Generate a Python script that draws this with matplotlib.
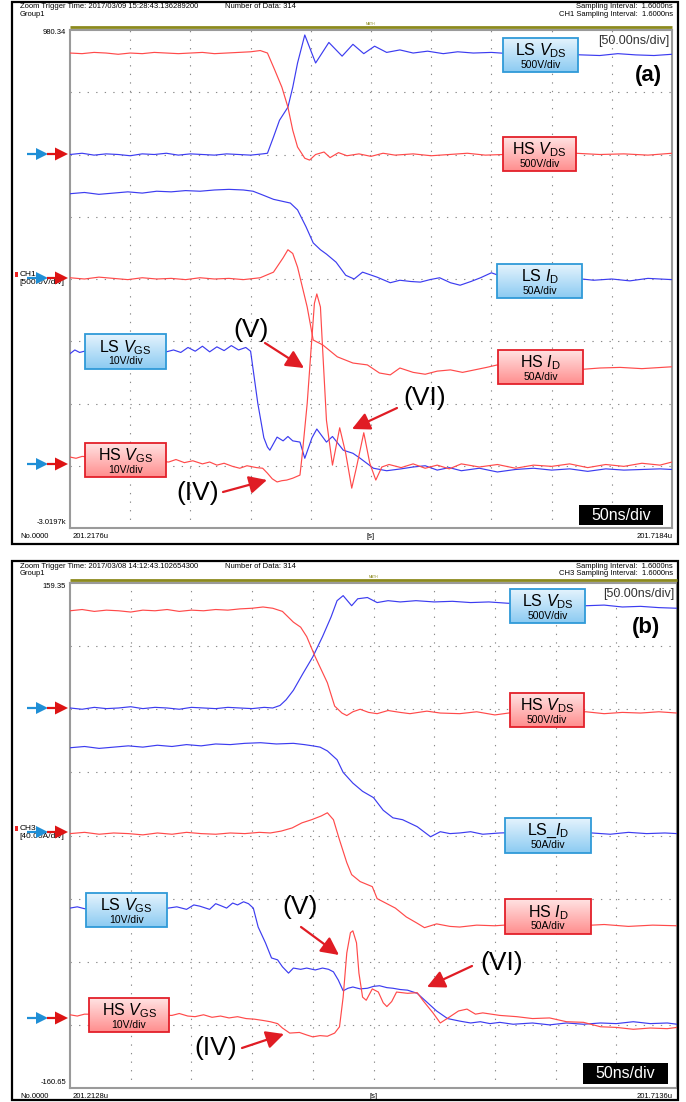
import numpy as np
import matplotlib
matplotlib.use('Agg')
import matplotlib.pyplot as plt
from matplotlib.patches import Rectangle, Polygon

plt.rcParams['font.family'] = ['Liberation Sans', 'DejaVu Sans']
plt.rcParams['mathtext.fontset'] = 'custom'
plt.rcParams['mathtext.rm'] = 'Liberation Sans'
plt.rcParams['mathtext.it'] = 'Liberation Sans:italic'
plt.rcParams['mathtext.bf'] = 'Liberation Sans:bold'

# ---------------- data (time in ns, value in divisions) ----------------
# Panel (a)
a_ls_vds_t = [0, 10, 20, 30, 40, 50, 60, 70, 80, 90, 100, 110, 120, 130, 140, 150, 160,
              164, 169, 174, 181, 185, 189, 195, 204, 215, 226, 235, 244, 253, 263, 274,
              285, 297, 310, 322, 335, 350, 365, 380, 395, 410, 425, 440, 455, 470, 485, 500]
a_ls_vds_v = [6.00, 6.02, 5.99, 6.01, 6.00, 5.98, 6.01, 6.00, 6.02, 5.99, 6.01, 6.00, 5.99, 6.01, 6.00, 5.99, 6.01,
              6.02, 6.28, 6.55, 6.76, 7.08, 7.47, 7.92, 7.47, 7.80, 7.58, 7.77, 7.62, 7.74, 7.64, 7.68,
              7.63, 7.66, 7.62, 7.65, 7.63, 7.64, 7.62, 7.63, 7.60, 7.61, 7.60, 7.59, 7.62, 7.60, 7.59, 7.61]

a_hs_vds_t = [0, 10, 20, 30, 40, 50, 60, 70, 80, 90, 100, 110, 120, 130, 140, 150,
              158, 164, 170, 176, 181, 185, 189, 195, 199, 204, 211, 216, 223, 230, 240, 250, 260, 270,
              285, 300, 315, 330, 345, 360, 380, 400, 420, 440, 460, 480, 500]
a_hs_vds_v = [7.63, 7.62, 7.64, 7.63, 7.61, 7.63, 7.62, 7.64, 7.63, 7.62, 7.63, 7.64, 7.62, 7.63, 7.64, 7.65,
              7.67, 7.63, 7.36, 7.08, 6.76, 6.39, 6.12, 5.94, 5.91, 6.00, 6.04, 5.95, 6.03, 5.98, 6.01, 5.97, 6.02, 5.99,
              6.01, 5.98, 6.00, 6.02, 5.99, 6.00, 6.01, 5.99, 6.02, 6.00, 6.01, 5.99, 6.02]

a_ls_id_t = [0, 12, 24, 36, 48, 60, 72, 84, 96, 108, 120, 132, 144,
             152, 160, 169, 183, 189, 196, 202, 208, 213, 221, 229, 236, 243, 255, 266,
             274, 283, 291, 299, 307, 316, 324, 333, 341, 350, 360, 375, 390, 405, 420, 435, 450, 465, 480, 500]
a_ls_id_v = [5.37, 5.39, 5.36, 5.38, 5.40, 5.38, 5.41, 5.40, 5.42, 5.41, 5.43, 5.44, 5.43,
             5.41, 5.35, 5.28, 5.22, 5.11, 4.84, 4.58, 4.47, 4.40, 4.27, 4.06, 4.00, 4.11, 4.03, 3.94,
             3.98, 3.96, 3.95, 3.99, 4.02, 3.94, 3.90, 3.96, 4.02, 4.10, 4.03, 3.98, 4.00, 3.97, 4.01, 3.98, 4.00, 3.97, 4.01, 3.99]

a_hs_id_t = [0, 12, 24, 36, 48, 60, 72, 84, 96, 108, 120, 132, 144,
             158, 169, 177, 181, 185, 189, 197, 202, 210, 222, 235, 247, 257, 266,
             274, 285, 295, 305, 316, 326, 336, 346, 355, 370, 390, 410, 426, 440, 457, 475, 500]
a_hs_id_v = [4.02, 4.00, 4.03, 4.01, 3.99, 4.02, 4.00, 4.01, 3.99, 4.02, 4.00, 4.01, 3.99,
             4.02, 4.11, 4.34, 4.47, 4.41, 4.19, 3.55, 3.02, 2.94, 2.75, 2.65, 2.62, 2.49, 2.46,
             2.57, 2.50, 2.47, 2.52, 2.54, 2.50, 2.54, 2.58, 2.62, 2.57, 2.55, 2.58, 2.55, 2.57, 2.58, 2.56, 2.59]

a_ls_vgs_t = [0, 4, 8, 12,
              80, 86, 92, 98, 104, 110, 116, 122, 128, 134, 140, 146, 150,
              156, 161, 164, 166, 172, 177, 181, 185, 191, 195, 201, 205, 213, 218, 227, 235, 241, 252, 263,
              275, 285, 295, 305, 315, 325, 340, 355, 370, 385, 400, 415, 430, 445, 460, 475, 490, 500]
a_ls_vgs_v = [2.80, 2.86, 2.82, 2.84,
              2.83, 2.86, 2.82, 2.90, 2.84, 2.92, 2.83, 2.91, 2.85, 2.93, 2.86, 2.90, 2.84,
              2.00, 1.45, 1.30, 1.25, 1.46, 1.40, 1.47, 1.40, 1.38, 1.12, 1.45, 1.59, 1.38, 1.47, 1.25, 1.20, 1.12, 0.96, 0.92,
              0.95, 0.98, 1.00, 0.93, 0.97, 0.92, 0.96, 0.90, 0.94, 0.96, 0.93, 0.95, 0.91, 0.95, 0.93, 0.94, 0.95, 0.94]

a_hs_vgs_t = [0, 5, 10,
              82, 88, 95, 102, 110, 116, 122, 128, 135, 141, 147, 155, 160,
              164, 168, 172, 176, 180, 185, 191, 193, 197, 200, 203, 205, 208, 210, 213, 218, 224, 229, 234, 238,
              244, 249, 254, 259, 265,
              275, 285, 295, 305, 315, 325, 340, 355, 370, 385, 400, 415, 430, 445, 460, 475, 490, 500]
a_hs_vgs_v = [1.14, 1.12, 1.15,
              1.06, 1.10, 1.05, 1.08, 1.03, 1.06, 1.01, 1.04, 0.99, 0.96, 1.00, 0.97, 0.96,
              0.88, 0.79, 0.74, 0.76, 0.77, 0.80, 0.85, 1.20, 2.00, 2.81, 3.61, 3.76, 3.55, 2.81, 1.73, 1.01, 1.61, 1.20, 0.64, 0.98,
              1.53, 1.04, 0.77, 0.98, 1.02,
              0.97, 1.03, 0.96, 1.01, 0.95, 1.03, 0.98, 1.02, 0.96, 1.01, 0.99, 1.03, 0.97, 1.02, 0.99, 1.04, 1.01, 1.06]

# Panel (b)
b_ls_vds_t = [0, 10, 20, 30, 40, 50, 60, 70, 80, 90, 100, 110, 120, 130, 140, 150, 160,
              167, 173, 178, 184, 192, 200, 208, 215, 220, 225, 232, 237, 245, 253, 262, 272, 285, 300, 315, 330,
              345, 360, 380, 400, 425, 440, 455, 470, 485, 500]
b_ls_vds_v = [6.02, 6.00, 6.03, 6.01, 6.02, 6.04, 6.01, 6.03, 6.02, 6.00, 6.03, 6.02, 6.01, 6.03, 6.02, 6.01, 6.03,
              6.02, 6.06, 6.15, 6.30, 6.57, 6.83, 7.15, 7.46, 7.72, 7.80, 7.64, 7.75, 7.77, 7.69, 7.72, 7.70, 7.72, 7.70, 7.71, 7.69,
              7.70, 7.68, 7.66, 7.67, 7.64, 7.65, 7.62, 7.63, 7.61, 7.60]

b_hs_vds_t = [0, 10, 20, 30, 40, 50, 60, 70, 80, 90, 100, 110, 120, 130, 140, 150,
              159, 167, 175, 184, 190, 195, 202, 212, 218, 224, 228, 233, 239, 246, 253, 262, 272, 280, 294, 305,
              321, 335, 350, 365, 380, 397, 410, 425, 440, 455, 470, 485, 500]
b_hs_vds_v = [7.56, 7.58, 7.55, 7.57, 7.56, 7.54, 7.57, 7.56, 7.58, 7.55, 7.57, 7.56, 7.58, 7.57, 7.59, 7.60,
              7.62, 7.60, 7.55, 7.38, 7.30, 7.15, 6.83, 6.42, 6.05, 5.94, 5.90, 5.96, 6.00, 5.95, 5.93, 5.98, 5.95, 5.93, 5.97, 5.94,
              5.93, 5.96, 5.91, 5.95, 5.96, 5.94, 5.95, 5.96, 5.93, 5.95, 5.94, 5.96, 5.94]

b_ls_id_t = [0, 12, 24, 36, 48, 60, 72, 84, 96, 108, 120, 132, 144,
             157, 170, 184, 193, 200, 206, 212, 220, 225, 233, 241, 250, 258, 266, 274, 286, 297, 305, 313, 321,
             330, 340, 354, 370, 390, 410, 430, 445, 460, 475, 490, 500]
b_ls_id_v = [5.39, 5.41, 5.38, 5.40, 5.42, 5.40, 5.43, 5.41, 5.44, 5.42, 5.45, 5.44, 5.46,
             5.47, 5.45, 5.46, 5.44, 5.42, 5.40, 5.34, 5.20, 5.00, 4.83, 4.70, 4.60, 4.40, 4.28, 4.25, 4.14, 3.98, 4.06, 4.03, 4.04,
             4.06, 4.02, 4.04, 4.05, 4.03, 4.05, 4.04, 4.02, 4.05, 4.03, 4.04, 4.03]

b_hs_id_t = [0, 12, 24, 36, 48, 60, 72, 84, 96, 108, 120, 132, 144, 156,
             165, 174, 183, 191, 199, 207, 212, 217, 222, 228, 232, 239, 249, 253, 260, 268, 277, 286, 292, 302,
             313, 321, 335, 350, 365, 380, 400, 420, 440, 460, 480, 500]
b_hs_id_v = [4.03, 4.05, 4.02, 4.04, 4.03, 4.01, 4.04, 4.02, 4.05, 4.03, 4.02, 4.04, 4.03, 4.05,
             4.04, 4.07, 4.12, 4.20, 4.25, 4.31, 4.36, 4.25, 3.93, 3.57, 3.38, 3.27, 3.19, 3.00, 2.93, 2.85, 2.71, 2.61, 2.54, 2.60,
             2.56, 2.55, 2.58, 2.57, 2.59, 2.56, 2.58, 2.57, 2.59, 2.56, 2.58, 2.57]

b_ls_vgs_t = [0, 6, 12,
              81, 88, 96, 102, 107, 115, 120, 124, 129, 134,
              138, 143, 147, 151, 155, 161, 166, 171, 175, 180,
              184, 190, 195, 202, 208, 213, 217, 221, 225, 229,
              233, 239, 245, 250, 255, 261, 266, 272, 278, 286,
              294, 302, 311, 321, 330, 338, 346, 354, 365, 381,
              395, 409, 423, 437, 450, 464, 478, 492, 500]
b_ls_vgs_v = [2.85, 2.87, 2.84,
              2.85, 2.87, 2.83, 2.90, 2.88, 2.83, 2.92, 2.89, 2.85, 2.93,
              2.90, 2.95, 2.92, 2.85, 2.55, 2.30, 2.06, 2.03, 1.92, 1.82,
              1.90, 1.88, 1.90, 1.87, 1.90, 1.88, 1.84, 1.71, 1.54, 1.58,
              1.60, 1.57, 1.58, 1.61, 1.62, 1.59, 1.58, 1.56, 1.55, 1.50,
              1.36, 1.22, 1.10, 1.06, 1.03, 1.05, 1.02, 1.04, 1.01, 1.03,
              1.00, 1.03, 1.01, 1.03, 1.02, 1.05, 1.02, 1.03, 1.01]

b_hs_vgs_t = [0, 6, 12,
              84, 90, 97, 103, 110, 117, 124, 131, 138, 145,
              152, 159, 165, 171, 175, 181, 189, 195, 200, 206,
              212, 218, 222, 225, 228, 231, 233, 236, 238, 241,
              244, 249, 254, 258, 261, 265, 269, 278, 286, 291,
              299, 305, 313, 320, 327, 334, 340, 354, 368, 381,
              395, 409, 423, 437, 450, 464, 478, 492, 500]
b_hs_vgs_v = [1.16, 1.14, 1.17,
              1.15, 1.18, 1.14, 1.13, 1.16, 1.12, 1.14, 1.11, 1.13, 1.10,
              1.09, 1.07, 1.05, 1.02, 0.95, 0.87, 0.88, 0.84, 0.81, 0.83,
              0.82, 0.87, 0.97, 1.44, 2.14, 2.46, 2.49, 2.30, 1.82, 1.44,
              1.39, 1.57, 1.52, 1.35, 1.29, 1.37, 1.52, 1.50, 1.51, 1.38,
              1.19, 1.03, 1.13, 1.22, 1.25, 1.17, 1.19, 1.15, 1.13, 1.10,
              1.11, 1.05, 1.04, 0.97, 0.96, 0.93, 0.95, 0.94, 0.96]

# ---------------- figure ----------------
W, H = 686, 1102
fig = plt.figure(figsize=(W / 100, H / 100), dpi=100)
fig.patch.set_facecolor('white')

BLUE = '#3c3cf0'
RED = '#ff4a4a'
NARROW = ['Liberation Sans Narrow', 'Liberation Sans', 'DejaVu Sans']

ov = fig.add_axes([0, 0, 1, 1], zorder=10)
ov.axis('off')


def px_axes(x0, y0, x1, y1):
    return fig.add_axes([x0 / W, 1 - y1 / H, (x1 - x0) / W, (y1 - y0) / H])


def gradient_box(x0, y0, x1, y1, top, bottom, edge, l1, l2):
    top = np.array(matplotlib.colors.to_rgb(top))
    bottom = np.array(matplotlib.colors.to_rgb(bottom))
    f = np.linspace(0, 1, 40)[:, None]
    img = (top[None, :] * (1 - f) + bottom[None, :] * f)[:, None, :]
    ov.imshow(img, extent=(x0, x1, y1, y0), aspect='auto', zorder=5, interpolation='bilinear')
    ov.add_patch(Rectangle((x0, y0), x1 - x0, y1 - y0, fill=False, ec=edge, lw=1.3, zorder=6))
    cx = (x0 + x1) / 2
    h = y1 - y0
    ov.text(cx, y0 + h * 0.38, l1, ha='center', va='center', fontsize=11.5, color='black', zorder=7)
    ov.text(cx, y0 + h * 0.78, l2, ha='center', va='center', fontsize=7.5, color='black', zorder=7)


def ls_box(x0, y0, x1, y1, l1, l2):
    gradient_box(x0, y0, x1, y1, '#e4f3fd', '#8ccbf2', '#2f9ad8', l1, l2)


def hs_box(x0, y0, x1, y1, l1, l2):
    gradient_box(x0, y0, x1, y1, '#ffe2e2', '#ff8e8e', '#e3202a', l1, l2)


def left_marker(y):
    ov.plot([27, 38], [y, y], color='#1f8fd6', lw=1.6, zorder=8, solid_capstyle='butt')
    ov.add_patch(Polygon([(36, y - 6), (36, y + 6), (48, y)], closed=True, fc='#1f8fd6', ec='none', zorder=8))
    ov.plot([47, 57], [y, y], color='#dd1414', lw=1.6, zorder=8, solid_capstyle='butt')
    ov.add_patch(Polygon([(55, y - 6.5), (55, y + 6.5), (68, y)], closed=True, fc='#dd1414', ec='none', zorder=8))


def annot(text, tx, ty, ax0, ay0, ax1, ay1):
    ov.text(tx, ty, text, ha='center', va='center', fontsize=19, color='black', zorder=9)
    ov.annotate('', xy=(ax1, ay1), xytext=(ax0, ay0),
                arrowprops=dict(arrowstyle='-|>,head_length=0.9,head_width=0.45', color='#e01c24', lw=1.6,
                                shrinkA=0, shrinkB=0, mutation_scale=12), zorder=9)


def panel(cfg, traces):
    fx0, fy0, fx1, fy1 = cfg['frame']
    ov.add_patch(Rectangle((fx0, fy0), fx1 - fx0, fy1 - fy0, fill=False, ec='black', lw=1.6, zorder=2))
    px0, py0, px1, py1 = cfg['plot']
    ax = px_axes(px0, py0, px1, py1)
    ax.set_xlim(0, 500)
    ax.set_ylim(0, 8)
    for xv in range(50, 500, 50):
        ax.plot([xv, xv], [0, 8], color='#8a8a8a', lw=0.8, ls=(0, (1.2, 6.5)), zorder=1)
    for yv in range(1, 8):
        ax.plot([0, 500], [yv, yv], color='#8a8a8a', lw=0.8, ls=(0, (1.2, 6.5)), zorder=1)
    for t, v, c in traces:
        ax.plot(t, v, color=c, lw=0.85, zorder=3)
    ax.set_xticks([])
    ax.set_yticks([])
    for s in ax.spines.values():
        s.set_color('#9a9a9a')
        s.set_linewidth(1.5)
    # header
    hy = fy0
    ov.text(20, hy + 5, cfg['trig'], fontsize=5.5, family=NARROW, va='center', ha='left')
    ov.text(20, hy + 12.5, 'Group1', fontsize=5.5, family=NARROW, va='center', ha='left')
    ov.text(225, hy + 5, 'Number of Data: 314', fontsize=5.5, family=NARROW, va='center', ha='left')
    ov.text(673, hy + 5, 'Sampling Interval:  1.6000ns', fontsize=5.5, family=NARROW, va='center', ha='right')
    ov.text(673, hy + 12.5, cfg['ch'] + ' Sampling Interval:  1.6000ns', fontsize=5.5, family=NARROW,
            va='center', ha='right')
    ov.plot([px0, px1], [py0 - 3, py0 - 3], color='#8c8a1e', lw=2.0, zorder=3, solid_capstyle='butt')
    ov.text((px0 + px1) / 2, py0 - 6, 'MATH', fontsize=2.5, color='#8c8a1e', ha='center', va='center')
    # y labels
    ov.text(px0 - 4, py0 + 3, cfg['ytop'], fontsize=5.5, family=NARROW, ha='right', va='center')
    ov.text(px0 - 4, py1 - 6, cfg['ybot'], fontsize=5.5, family=NARROW, ha='right', va='center')
    # x labels
    by = py1 + 9
    ov.text(20, by, 'No.0000', fontsize=5.5, family=NARROW, ha='left', va='center')
    ov.text(px0 + 3, by, cfg['xl'], fontsize=5.5, family=NARROW, ha='left', va='center')
    ov.text((px0 + px1) / 2, by, '[s]', fontsize=5.5, family=NARROW, ha='center', va='center')
    ov.text(673, by, cfg['xr'], fontsize=5.5, family=NARROW, ha='right', va='center')
    # scale labels
    ov.text(px1 - 3, py0 + 11, '[50.00ns/div]', fontsize=9, family=NARROW, color='#333333',
            ha='right', va='center', zorder=9)
    ov.text(cfg['tag_xy'][0], cfg['tag_xy'][1], cfg['tag'], fontsize=16, fontweight='bold',
            ha='center', va='center', zorder=9)
    bx0, by0, bx1, by1 = cfg['tbox']
    ov.add_patch(Rectangle((bx0, by0), bx1 - bx0, by1 - by0, fc='black', ec='none', zorder=8))
    ov.text((bx0 + bx1) / 2, (by0 + by1) / 2 + 0.5, '50ns/div', color='white', fontsize=11.5,
            ha='center', va='center', zorder=9)
    # channel label
    cy = cfg['ch_y']
    ov.add_patch(Rectangle((15, cy - 6), 3, 5, fc='#ee2222', ec='none', zorder=7))
    ov.text(20, cy - 3.5, cfg['ch'], fontsize=6, family=NARROW, ha='left', va='center', zorder=7)
    ov.text(19, cy + 4.5, cfg['chdiv'], fontsize=6, family=NARROW, ha='left', va='center', zorder=7)
    for my in cfg['markers']:
        left_marker(my)


cfg_a = dict(frame=(12, 2, 678, 544), plot=(70, 30, 672, 528),
             trig='Zoom Trigger Time: 2017/03/09 15:28:43.136289200', ch='CH1',
             ytop='980.34', ybot='-3.0197k', xl='201.2176u', xr='201.7184u',
             tag='(a)', tag_xy=(648, 75), tbox=(579, 505, 663, 525),
             ch_y=278, chdiv='[500.0V/div]', markers=(154, 278, 464))
cfg_b = dict(frame=(12, 561, 678, 1100), plot=(70, 583, 677, 1088),
             trig='Zoom Trigger Time: 2017/03/08 14:12:43.102654300', ch='CH3',
             ytop='159.35', ybot='-160.65', xl='201.2128u', xr='201.7136u',
             tag='(b)', tag_xy=(646, 628), tbox=(583, 1063, 668, 1084),
             ch_y=832, chdiv='[40.00A/div]', markers=(708, 832, 1018))

panel(cfg_a, [(a_ls_vds_t, a_ls_vds_v, BLUE), (a_hs_vds_t, a_hs_vds_v, RED),
              (a_ls_id_t, a_ls_id_v, BLUE), (a_hs_id_t, a_hs_id_v, RED),
              (a_ls_vgs_t, a_ls_vgs_v, BLUE), (a_hs_vgs_t, a_hs_vgs_v, RED)])
panel(cfg_b, [(b_ls_vds_t, b_ls_vds_v, BLUE), (b_hs_vds_t, b_hs_vds_v, RED),
              (b_ls_id_t, b_ls_id_v, BLUE), (b_hs_id_t, b_hs_id_v, RED),
              (b_ls_vgs_t, b_ls_vgs_v, BLUE), (b_hs_vgs_t, b_hs_vgs_v, RED)])

# label boxes panel (a)
ls_box(503, 38, 578, 72, r'LS $\mathit{V}_{\mathrm{DS}}$', '500V/div')
hs_box(503, 137, 576, 171, r'HS $\mathit{V}_{\mathrm{DS}}$', '500V/div')
ls_box(497, 264, 582, 298, r'LS $\mathit{I}_{\mathrm{D}}$', '50A/div')
hs_box(498, 350, 583, 384, r'HS $\mathit{I}_{\mathrm{D}}$', '50A/div')
ls_box(85, 334, 166, 369, r'LS $\mathit{V}_{\mathrm{GS}}$', '10V/div')
hs_box(85, 443, 166, 477, r'HS $\mathit{V}_{\mathrm{GS}}$', '10V/div')
annot('(V)', 251, 330, 265, 343, 304, 368)
annot('(IV)', 198, 493, 223, 492, 267, 480)
annot('(VI)', 425, 398, 397, 408, 352, 429)

# label boxes panel (b)
ls_box(510, 589, 585, 623, r'LS $\mathit{V}_{\mathrm{DS}}$', '500V/div')
hs_box(510, 693, 584, 727, r'HS $\mathit{V}_{\mathrm{DS}}$', '500V/div')
ls_box(505, 818, 591, 853, r'LS_$\mathit{I}_{\mathrm{D}}$', '50A/div')
hs_box(505, 899, 591, 934, r'HS $\mathit{I}_{\mathrm{D}}$', '50A/div')
ls_box(86, 893, 167, 927, r'LS $\mathit{V}_{\mathrm{GS}}$', '10V/div')
hs_box(89, 998, 169, 1032, r'HS $\mathit{V}_{\mathrm{GS}}$', '10V/div')
annot('(V)', 300, 907, 301, 927, 339, 955)
annot('(IV)', 216, 1048, 242, 1048, 284, 1034)
annot('(VI)', 502, 963, 472, 966, 427, 987)

ov.set_xlim(0, W)
ov.set_ylim(H, 0)

fig.savefig('out.png', dpi=100)
